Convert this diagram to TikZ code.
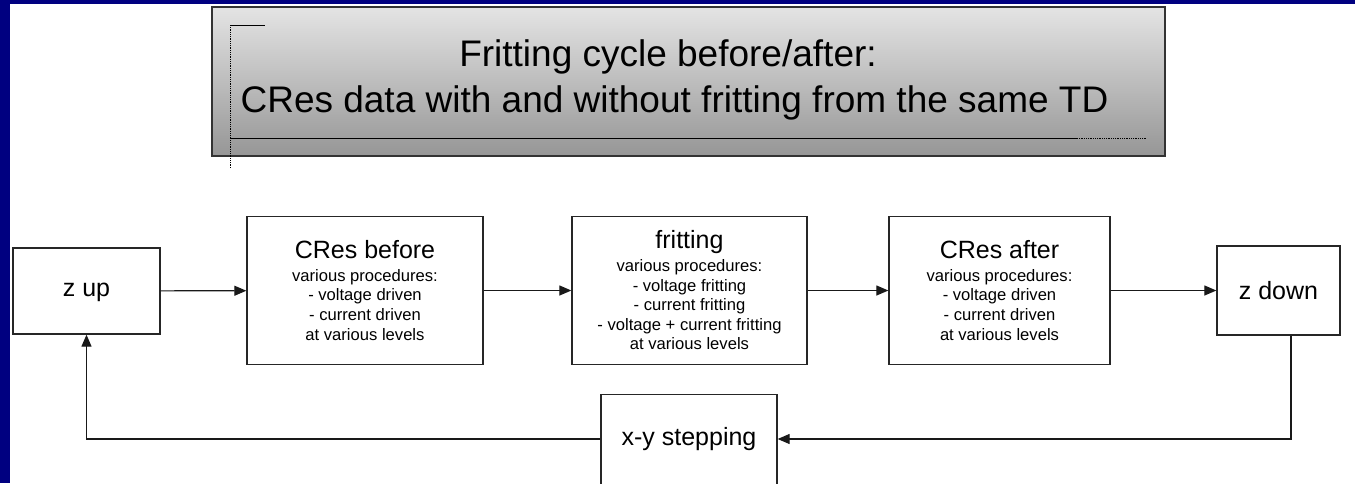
\documentclass[tikz,border=0pt]{standalone}
\usepackage{fontspec}
\setmainfont{Liberation Sans}
\usetikzlibrary{arrows.meta}
\definecolor{frame}{RGB}{0,0,128}
\definecolor{titletop}{RGB}{228,228,228}
\definecolor{titlebottom}{RGB}{150,150,150}
\begin{document}
\begin{tikzpicture}[x=1pt,y=-1pt,
  box/.style={draw=black!85, line width=1.3pt, fill=white, inner sep=0pt},
  txt/.style={align=center, inner sep=0pt, font=\fontsize{16.6}{19.6}\selectfont},
  headtxt/.style={inner sep=0pt, font=\fontsize{25}{30}\selectfont},
  link/.style={line width=1.2pt, draw=black!90, -{Triangle[length=12pt,width=10pt]}},
  deco/.style={line width=0.8pt, draw=black},
  titletext/.style={anchor=base, inner sep=0pt, font=\fontsize{37}{44}\selectfont},
]
\newcommand{\hd}[1]{{\fontsize{25}{30}\selectfont #1}}
% page and blue frame
\clip (0,0) rectangle (1355,483);
\fill[white] (0,0) rectangle (1355,483);
\fill[frame] (0,0) rectangle (10,483);
\fill[frame] (0,0) rectangle (1355,4);

% title panel
\node[draw=black!80, line width=1.4pt, top color=titletop, bottom color=titlebottom,
  minimum width=953pt, minimum height=149pt, inner sep=0pt] (title) at (688.5,81.5) {};
\draw[deco] (230,25) -- (265,25);
\draw[deco, densely dotted] (230,25) -- (230,168);
\draw[deco] (230,138) -- (1077,138);
\draw[deco, densely dotted] (1077,138) -- (1147,138);
\node[titletext] (t1) at (668,66) {Fritting cycle before/after:};
\node[titletext] (t2) at (674.5,112) {CRes data with and without fritting from the same TD};

% process boxes
\node[box, minimum width=147pt, minimum height=86pt] (zup) at (86.5,291) {};
\node[box, minimum width=236pt, minimum height=148pt] (before) at (365,290.5) {};
\node[box, minimum width=235pt, minimum height=148pt] (frit) at (689.5,290.5) {};
\node[box, minimum width=221pt, minimum height=148pt] (after) at (999.5,290.5) {};
\node[box, minimum width=123pt, minimum height=89pt] (zdown) at (1278.5,290.5) {};
\node[box, minimum width=176pt, minimum height=100pt, anchor=north] (xy) at (689,394) {};
\coordinate (fb) at (1291,439);

% box texts
\node[headtxt] (zuptxt) at ([yshift=-1pt]zup.center) {z up};
\node[headtxt] (zdowntxt) at (zdown.center) {z down};
\node[headtxt] (xytxt) at (xy.center |- fb) {x-y stepping};
\node[txt] (beforetxt) at (before.center)
  {\hd{CRes before}\\[3pt] various procedures:\\- voltage driven\\- current driven\\at various levels};
\node[txt] (frittxt) at (frit.center)
  {\hd{fritting}\\[3pt] various procedures:\\- voltage fritting\\- current fritting\\- voltage + current fritting\\at various levels};
\node[txt] (aftertxt) at (after.center)
  {\hd{CRes after}\\[3pt] various procedures:\\- voltage driven\\- current driven\\at various levels};

% forward chain
\draw[link] (zup) -- (before);
\draw[link] (before) -- (frit);
\draw[link] (frit) -- (after);
\draw[link] (after) -- (zdown);

% return path
\draw[link] (zdown.south -| fb) |- (xy.east |- fb);
\draw[link] (xy.west |- fb) -| (zup.south);
\end{tikzpicture}
\end{document}
